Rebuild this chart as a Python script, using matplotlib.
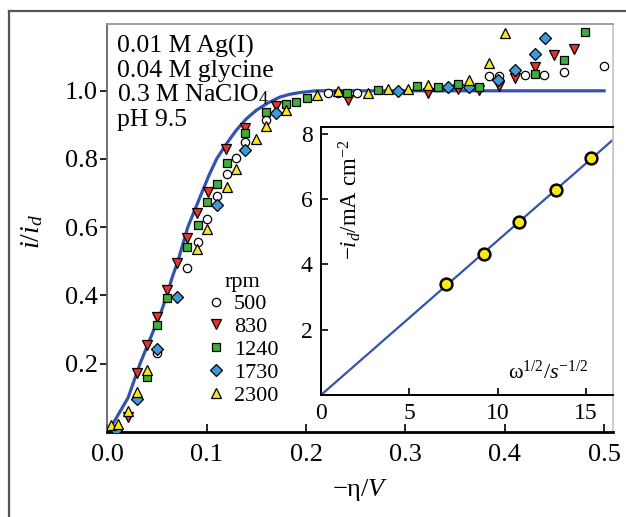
import numpy as np
import matplotlib
matplotlib.use("Agg")
from matplotlib import pyplot as plt
from matplotlib.lines import Line2D

plt.rcParams['font.family'] = ['Liberation Serif', 'DejaVu Serif']
plt.rcParams['mathtext.fontset'] = 'custom'
plt.rcParams['mathtext.rm'] = 'Liberation Serif'
plt.rcParams['mathtext.it'] = 'Liberation Serif:italic'
plt.rcParams['axes.unicode_minus'] = True

# theoretical i/id curve
curve_eta = [0, 0.005, 0.010, 0.015, 0.021, 0.027, 0.033, 0.040, 0.047, 0.054,
             0.060, 0.065, 0.071, 0.076, 0.081, 0.088, 0.095, 0.102, 0.110,
             0.120, 0.130, 0.140, 0.150, 0.162, 0.174, 0.184, 0.194, 0.210,
             0.250, 0.350, 0.500]
curve_i = [0, 0.020, 0.045, 0.070, 0.10, 0.15, 0.20, 0.25, 0.30, 0.35,
           0.40, 0.45, 0.50, 0.55, 0.60, 0.65, 0.70, 0.75, 0.80,
           0.845, 0.885, 0.918, 0.943, 0.965, 0.982, 0.990, 0.995, 1.0,
           1.0, 1.0, 1.0]

# measured points, one set per rotation rate
rpm_labels = ['500', '830', '1240', '1730', '2300']

eta_500 = [0.050, 0.080, 0.091, 0.100, 0.110, 0.120, 0.130, 0.139, 0.160,
           0.222, 0.232, 0.251, 0.384, 0.394, 0.420, 0.440, 0.460, 0.500]
i_500 = [0.230, 0.479, 0.557, 0.624, 0.691, 0.756, 0.802, 0.850, 0.914,
         0.993, 0.995, 0.995, 1.042, 1.042, 1.047, 1.047, 1.056, 1.074]

eta_830 = [0.021, 0.030, 0.040, 0.050, 0.060, 0.070, 0.080, 0.090, 0.101,
           0.119, 0.139, 0.170, 0.242, 0.323, 0.353, 0.374, 0.394, 0.410,
           0.430, 0.450, 0.470]
i_830 = [0.044, 0.171, 0.254, 0.337, 0.415, 0.494, 0.567, 0.642, 0.702,
         0.830, 0.890, 0.955, 0.972, 0.995, 1.005, 1.001, 1.013, 1.038,
         1.071, 1.106, 1.124]

eta_1240 = [0.040, 0.050, 0.060, 0.080, 0.091, 0.100, 0.110, 0.120, 0.139,
            0.160, 0.180, 0.190, 0.201, 0.241, 0.272, 0.312, 0.333, 0.353,
            0.374, 0.430, 0.460, 0.481]
i_1240 = [0.159, 0.313, 0.393, 0.543, 0.606, 0.673, 0.726, 0.787, 0.875,
          0.938, 0.960, 0.968, 0.978, 0.995, 1.001, 1.013, 1.010, 1.020,
          1.010, 1.050, 1.091, 1.173]

eta_1730 = [0.009, 0.030, 0.050, 0.070, 0.110, 0.139, 0.170, 0.293, 0.343,
            0.364, 0.393, 0.410, 0.430, 0.441]
i_1730 = [0.005, 0.096, 0.244, 0.396, 0.665, 0.826, 0.934, 1.000, 1.010,
          1.010, 1.032, 1.062, 1.109, 1.156]

eta_2300 = [0.004, 0.011, 0.021, 0.030, 0.040, 0.090, 0.100, 0.120, 0.130,
            0.150, 0.160, 0.180, 0.211, 0.232, 0.262, 0.283, 0.303, 0.323,
            0.364, 0.384, 0.400]
i_2300 = [0.020, 0.022, 0.062, 0.117, 0.181, 0.536, 0.596, 0.718, 0.772,
          0.860, 0.896, 0.945, 0.988, 0.998, 0.995, 1.005, 1.005, 1.018,
          1.033, 1.081, 1.171]

# Levich plot
omega_sqrt = [7.1, 9.2, 11.2, 13.3, 15.3]
i_lim = [3.41, 4.33, 5.30, 6.27, 7.25]
fit_x = [0, 16.7]
fit_y = [0, 7.9]

W, H = 626, 517
fig = plt.figure(figsize=(W / 100, H / 100), dpi=100)

# outer frame (left and top edges)
fig.add_artist(Line2D([9 / W, 9 / W], [0, 1 - 11 / H], transform=fig.transFigure,
                      color='#555555', lw=1.6))
fig.add_artist(Line2D([9 / W, 1], [1 - 11 / H, 1 - 11 / H], transform=fig.transFigure,
                      color='#555555', lw=1.6))

ax = fig.add_axes([107.3 / W, 1 - 431.7 / H, (613 - 107.3) / W, (431.7 - 24) / H])
line_blue = '#3553ad'
ax.plot(curve_eta, curve_i, color=line_blue, lw=2.3, zorder=2)

edge = 'black'
series = [
    (eta_500, i_500, 'o', 'white', 6.0),
    (eta_830, i_830, 'v', '#e8332a', 7.5),
    (eta_1240, i_1240, 's', '#3fae3a', 6.0),
    (eta_1730, i_1730, 'D', '#3d9ad8', 6.0),
    (eta_2300, i_2300, '^', '#f7e81a', 7.5),
]
for (ex, iy, mk, col, ms), lab in zip(series, rpm_labels):
    ax.plot(ex, iy, linestyle='none', marker=mk, markerfacecolor=col,
            markeredgecolor=edge, markeredgewidth=0.9, markersize=ms,
            label=lab, zorder=3)

ax.set_xlim(0, 0.509)
ax.set_ylim(0, 1.196)
ax.set_xticks([0.0, 0.1, 0.2, 0.3, 0.4, 0.5])
ax.set_xticklabels(['0.0', '0.1', '0.2', '0.3', '0.4', '0.5'])
ax.set_yticks([0.2, 0.4, 0.6, 0.8, 1.0])
ax.set_yticklabels(['0.2', '0.4', '0.6', '0.8', '1.0'])
ax.tick_params(axis='x', direction='in', length=6, width=1.2, labelsize=19, pad=9)
ax.tick_params(axis='y', direction='out', length=5, width=1.2, labelsize=19, pad=2)
ax.spines['bottom'].set_linewidth(2.0)
ax.spines['bottom'].set_color('black')
ax.spines['left'].set_color('#666666')
ax.spines['left'].set_linewidth(1.3)
ax.spines['top'].set_color('#999999')
ax.spines['top'].set_linewidth(1.3)
ax.spines['right'].set_color('#c8c8c8')
ax.spines['right'].set_linewidth(1.3)

leg = ax.legend(title='rpm', loc='upper left', bbox_to_anchor=(0.195, 0.39),
                frameon=False, fontsize=16, title_fontsize=16, handlelength=0.9,
                handletextpad=0.35, labelspacing=0.1, borderpad=0,
                borderaxespad=0)

# solution composition
comp = ['0.01 M Ag(I)', '0.04 M glycine', '0.3 M NaClO$_4$', 'pH 9.5']
for k, s in enumerate(comp):
    ax.text(0.019, 0.929 - 0.06 * k, s, transform=ax.transAxes, fontsize=18.5,
            va='baseline', ha='left')

fig.text(32 / W, 1 - 232 / H, '$i/i_d$', rotation=90, fontsize=20,
         ha='center', va='center')
fig.text(360 / W, 1 - 490 / H, '−η/$V$', fontsize=19, ha='center', va='center')

# inset: limiting current vs sqrt(rotation rate)
ins = fig.add_axes([321 / W, 1 - 395 / H, (613 - 321) / W, (395 - 127) / H])
ins.plot(fit_x, fit_y, color=line_blue, lw=1.6, zorder=2)
ins.plot(omega_sqrt, i_lim, linestyle='none', marker='o', markersize=8.5,
         markerfacecolor='#f7e81a', markeredgecolor='black', markeredgewidth=1.8,
         zorder=3)
ins.set_xlim(0, 16.53)
ins.set_ylim(0, 8.21)
ins.set_xticks([0, 5, 10, 15])
ins.set_yticks([2, 4, 6, 8])
ins.tick_params(direction='in', length=5, width=1.2, labelsize=17)
ins.tick_params(axis='x', pad=6)
ins.tick_params(axis='y', pad=6)
for side in ['top', 'left', 'bottom']:
    ins.spines[side].set_linewidth(1.4)
ins.spines['right'].set_color('#c8c8c8')
ins.spines['right'].set_linewidth(1.3)
ins.text(0.10, 0.955, '$-i_d$/mA cm$^{-2}$', transform=ins.transAxes,
         rotation=90, fontsize=16.5, ha='center', va='top')
ins.text(0.777, 0.06, r'$\mathrm{\omega}^{1/2}/s^{-1/2}$', transform=ins.transAxes,
         fontsize=16, ha='center', va='baseline')

fig.savefig('out.png', dpi=100)
